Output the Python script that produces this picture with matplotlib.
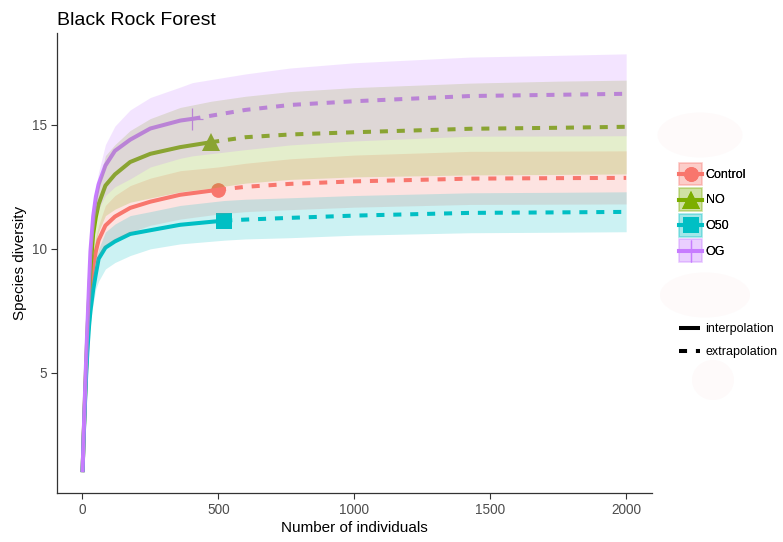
import matplotlib
matplotlib.use('Agg')
import matplotlib.pyplot as plt
from matplotlib.patches import Patch, Ellipse
from matplotlib.lines import Line2D
from matplotlib.legend_handler import HandlerTuple, HandlerLine2D
import numpy as np

plt.rcParams['font.family'] = ['Liberation Sans', 'DejaVu Sans']

# ---------------- data ----------------
groups = ['Control', 'NO', 'O50', 'OG']
obs_n = [499, 474, 522, 405]
obs_y = [12.38, 14.32, 11.14, 15.24]

Control_n = [1, 5, 10, 15, 20, 25, 30, 40, 50, 60, 85, 120, 176, 250, 360, 499, 600, 765, 1000, 1426, 1750, 2000]
Control_y = [1, 2.4, 3.9, 5.3, 6.5, 7.5, 8.3, 9.3, 9.9, 10.35, 10.94, 11.3, 11.65, 11.9, 12.18, 12.38, 12.5, 12.62, 12.72, 12.83, 12.85, 12.86]
Control_lo = [1, 2.35, 3.8, 5.15, 6.3, 7.2, 7.9, 8.8, 9.3, 9.7, 10.13, 10.4, 10.67, 10.95, 11.2, 11.4, 11.5, 11.58, 11.68, 11.79, 11.8, 11.81]
Control_hi = [1, 2.45, 4.0, 5.45, 6.7, 7.8, 8.7, 9.8, 10.5, 10.95, 11.75, 12.15, 12.55, 12.85, 13.15, 13.3, 13.45, 13.63, 13.78, 13.93, 13.94, 13.95]

NO_n = [1, 5, 10, 15, 20, 25, 30, 40, 50, 60, 85, 120, 176, 250, 360, 474, 600, 765, 1000, 1426, 1750, 2000]
NO_y = [1, 2.45, 4.05, 5.55, 6.9, 8.05, 9.2, 10.6, 11.3, 11.8, 12.55, 13.0, 13.5, 13.83, 14.1, 14.3, 14.5, 14.61, 14.7, 14.84, 14.88, 14.92]
NO_lo = [1, 2.4, 3.95, 5.4, 6.6, 7.6, 8.5, 9.7, 10.3, 10.7, 11.34, 11.6, 11.88, 12.05, 12.3, 12.45, 12.65, 12.8, 12.9, 12.98, 13.0, 13.02]
NO_hi = [1, 2.5, 4.15, 5.7, 7.1, 8.4, 9.7, 11.2, 12.0, 12.6, 13.76, 14.2, 14.77, 15.25, 15.7, 15.95, 16.15, 16.34, 16.5, 16.68, 16.76, 16.8]

O50_n = [1, 5, 10, 15, 20, 25, 30, 40, 50, 60, 85, 120, 176, 250, 360, 522, 600, 765, 1000, 1426, 1750, 2000]
O50_y = [1, 2.35, 3.8, 5.1, 6.1, 6.9, 7.5, 8.35, 9.0, 9.6, 10.05, 10.3, 10.6, 10.75, 10.97, 11.14, 11.18, 11.25, 11.34, 11.45, 11.47, 11.49]
O50_lo = [1, 2.3, 3.7, 4.95, 5.85, 6.55, 7.05, 7.8, 8.4, 8.7, 9.19, 9.45, 9.73, 10.0, 10.2, 10.35, 10.4, 10.45, 10.55, 10.65, 10.67, 10.69]
O50_hi = [1, 2.4, 3.9, 5.25, 6.35, 7.25, 7.95, 8.9, 9.55, 10.0, 10.68, 11.0, 11.34, 11.5, 11.75, 11.95, 12.0, 12.06, 12.15, 12.26, 12.28, 12.3]

OG_n = [1, 5, 10, 15, 20, 25, 30, 40, 50, 60, 85, 120, 176, 250, 360, 405, 600, 765, 1000, 1426, 1750, 2000]
OG_y = [1, 2.5, 4.2, 5.8, 7.2, 8.6, 9.9, 11.3, 12.1, 12.6, 13.36, 13.95, 14.4, 14.85, 15.17, 15.24, 15.6, 15.8, 15.95, 16.16, 16.21, 16.25]
OG_lo = [1, 2.4, 4.0, 5.5, 6.8, 8.0, 9.2, 10.6, 11.3, 11.6, 12.15, 12.5, 12.82, 13.3, 13.65, 13.75, 14.0, 14.19, 14.35, 14.54, 14.55, 14.56]
OG_hi = [1, 2.6, 4.4, 6.1, 7.6, 9.0, 10.3, 11.8, 12.5, 13.1, 14.2, 14.95, 15.6, 16.1, 16.52, 16.7, 17.05, 17.29, 17.5, 17.73, 17.8, 17.86]

series_n = [Control_n, NO_n, O50_n, OG_n]
series_y = [Control_y, NO_y, O50_y, OG_y]
series_lo = [Control_lo, NO_lo, O50_lo, OG_lo]
series_hi = [Control_hi, NO_hi, O50_hi, OG_hi]

x_ticks = [0, 500, 1000, 1500, 2000]
y_ticks = [5, 10, 15]
method_labels = ['interpolation', 'extrapolation']

# ---------------- style ----------------
colors = ['#F8766D', '#7CAE00', '#00BFC4', '#C77CFF']
markers = ['o', '^', 's', '+']
msizes = [10.6, 13.5, 11.5, 16.5]
LW = 2.9
DASH = (0, (2.0, 2.2))

W, H = 783, 542
fig = plt.figure(figsize=(W / 100, H / 100), dpi=100)
ax = fig.add_axes([57 / W, (H - 493) / H, 595 / W, 460 / H])

for i, g in enumerate(groups):
    n = np.array(series_n[i], dtype=float)
    y = np.array(series_y[i], dtype=float)
    c = colors[i]
    mew = 0.9 if markers[i] == '+' else 0
    ax.plot([obs_n[i]], [obs_y[i]], linestyle='none', marker=markers[i], ms=msizes[i],
            color=c, mec=c, mew=mew, zorder=2)
    mi = n <= obs_n[i]
    me = n >= obs_n[i]
    ax.plot(n[mi], y[mi], color=c, lw=LW, solid_capstyle='butt', solid_joinstyle='round', zorder=3)
    ax.plot(n[me], y[me], color=c, lw=LW, linestyle=DASH, dash_capstyle='butt', zorder=3)

for i, g in enumerate(groups):
    ax.fill_between(series_n[i], series_lo[i], series_hi[i], color=colors[i], alpha=0.2,
                    linewidth=0, zorder=4)

ax.set_xlim(-93, 2095)
ax.set_ylim(0.16, 18.7)
ax.set_xticks(x_ticks)
ax.set_yticks(y_ticks)
ax.set_xticklabels([str(v) for v in x_ticks])
ax.set_yticklabels([str(v) for v in y_ticks])
for s in ['top', 'right']:
    ax.spines[s].set_visible(False)
for s in ['left', 'bottom']:
    ax.spines[s].set_color('#333333')
    ax.spines[s].set_linewidth(0.9)
ax.tick_params(length=4, width=0.8, color='#333333', labelcolor='#4D4D4D', labelsize=9.8, pad=3)
ax.set_xlabel('Number of individuals', fontsize=11, color='black', labelpad=3)
ax.set_ylabel('Species diversity', fontsize=11, color='black', labelpad=4)
ax.set_title('Black Rock Forest', loc='left', fontsize=14, pad=6)

# faint blobs seen in the legend region of the reference
for (cx, cy, ew, eh) in [(700, 135, 85, 45), (705, 295, 90, 45), (713, 380, 42, 40)]:
    fig.add_artist(Ellipse((cx / W, 1 - cy / H), ew / W, eh / H, transform=fig.transFigure,
                           facecolor='#fefafa', edgecolor='none', zorder=0))


class CenteredLine(HandlerLine2D):
    """Line/marker key placed at the vertical centre of the key box."""
    def create_artists(self, legend, orig_handle, xdescent, ydescent, width, height,
                       fontsize, trans):
        arts = super().create_artists(legend, orig_handle, xdescent, ydescent, width,
                                      height, fontsize, trans)
        for a in arts:
            a.set_ydata(np.asarray(a.get_ydata(), dtype=float) - ydescent / 2.0)
        return arts


# legend 1: groups
handles = []
hmap = {tuple: HandlerTuple(ndivide=1, pad=0)}
for i, g in enumerate(groups):
    box = Patch(facecolor=colors[i], alpha=0.2, edgecolor=colors[i], linewidth=1.2)
    mew = 0.9 if markers[i] == '+' else 0
    ln = Line2D([], [], color=colors[i], lw=LW, marker=markers[i], ms=msizes[i],
                mec=colors[i], mew=mew)
    hmap[ln] = CenteredLine()
    handles.append((ln, box))
leg1 = fig.legend(handles, groups, handler_map=hmap,
                  loc='upper left', bbox_to_anchor=(679 / W, 1 - 162.5 / H),
                  frameon=False, fontsize=9, handlelength=1.84, handleheight=2.45,
                  labelspacing=0.21, handletextpad=0.3, borderpad=0, borderaxespad=0)
fig.add_artist(leg1)

# legend 2: method
h2 = [Line2D([], [], color='black', lw=LW, solid_capstyle='butt'),
      Line2D([], [], color='black', lw=LW, linestyle=DASH, dash_capstyle='butt')]
leg2 = fig.legend(h2, method_labels, loc='upper left', bbox_to_anchor=(679 / W, 1 - 323 / H),
                  frameon=False, fontsize=9, handlelength=1.65, labelspacing=0.9,
                  handletextpad=0.45, borderpad=0, borderaxespad=0)

fig.savefig('out.png', dpi=100)
